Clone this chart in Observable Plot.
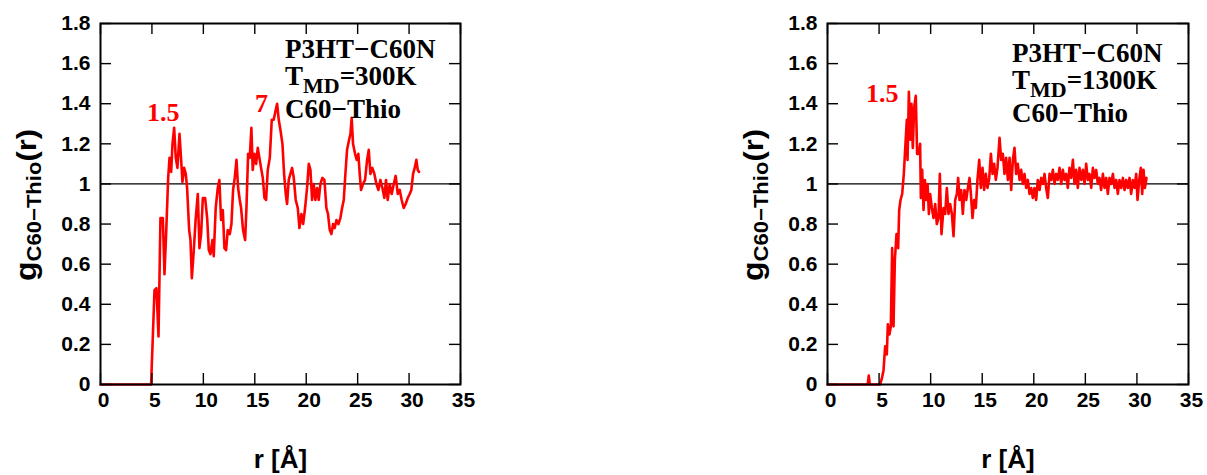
<!DOCTYPE html>
<html>
<head>
<meta charset="utf-8">
<script src="https://cdn.jsdelivr.net/npm/d3@7"></script>
<script src="https://cdn.jsdelivr.net/npm/@observablehq/plot@0.6"></script>
<style>
  html, body { margin: 0; padding: 0; background: #fff; }
  #wrap { position: relative; width: 1207px; height: 475px; overflow: hidden; background: #fff; }
  #left, #right { position: absolute; top: 0; }
  #left { left: 0; }
  #right { left: 727px; }
</style>
</head>
<body>
<div id="wrap"><div id="left"></div><div id="right"></div></div>
<script>
// ---- data ----
const xTicks = [0, 5, 10, 15, 20, 25, 30, 35];
const yTicks = [0, 0.2, 0.4, 0.6, 0.8, 1, 1.2, 1.4, 1.6, 1.8];

// T_MD = 300 K
const r300 = [0, 4.92, 5.25, 5.44, 5.64, 5.83, 6.06, 6.22, 6.38, 6.58, 6.71, 6.87, 7.0, 7.16, 7.32, 7.48, 7.68, 7.84, 7.97, 8.13, 8.29, 8.42, 8.62, 8.75, 8.88, 9.07, 9.26, 9.46, 9.62, 9.78, 9.95, 10.17, 10.37, 10.53, 10.69, 10.88, 11.01, 11.2, 11.4, 11.56, 11.72, 11.89, 12.05, 12.21, 12.37, 12.57, 12.73, 12.89, 13.05, 13.22, 13.38, 13.54, 13.67, 13.86, 14.06, 14.19, 14.35, 14.51, 14.67, 14.8, 14.97, 15.13, 15.29, 15.45, 15.61, 15.78, 15.94, 16.1, 16.26, 16.46, 16.65, 16.84, 17.04, 17.17, 17.33, 17.49, 17.69, 17.85, 18.01, 18.14, 18.3, 18.46, 18.63, 18.79, 18.98, 19.18, 19.34, 19.53, 19.7, 19.89, 20.08, 20.25, 20.41, 20.57, 20.73, 20.89, 21.06, 21.22, 21.38, 21.57, 21.77, 21.96, 22.12, 22.29, 22.45, 22.61, 22.77, 22.94, 23.13, 23.32, 23.49, 23.65, 23.81, 23.97, 24.17, 24.3, 24.42, 24.55, 24.75, 24.91, 25.07, 25.2, 25.33, 25.53, 25.72, 25.92, 26.08, 26.24, 26.43, 26.63, 26.82, 27.02, 27.21, 27.41, 27.6, 27.76, 27.92, 28.12, 28.31, 28.51, 28.7, 28.9, 29.09, 29.28, 29.48, 29.67, 29.87, 30.06, 30.22, 30.39, 30.55, 30.71, 30.84, 30.97];
const g300 = [0, 0, 0.47, 0.48, 0.24, 0.83, 0.83, 0.55, 0.75, 1.03, 1.13, 1.06, 1.2, 1.28, 1.13, 1.08, 1.25, 1.12, 1.01, 1.08, 1.05, 0.98, 0.77, 0.72, 0.53, 0.67, 0.83, 0.95, 0.68, 0.75, 0.93, 0.93, 0.83, 0.67, 0.65, 0.72, 0.64, 0.88, 0.98, 1.02, 0.82, 0.87, 0.68, 0.67, 0.77, 0.75, 0.8, 0.97, 1.03, 1.12, 0.98, 0.92, 0.88, 0.77, 0.72, 0.88, 1.15, 1.13, 1.28, 1.07, 1.15, 1.1, 1.18, 1.13, 1.08, 1.03, 0.93, 0.92, 1.07, 1.13, 1.32, 1.32, 1.37, 1.4, 1.32, 1.27, 1.2, 1.05, 0.95, 0.9, 1.02, 1.05, 1.08, 1.03, 0.92, 0.88, 0.78, 0.85, 0.8, 0.88, 0.98, 1.1, 1.07, 0.92, 1.0, 0.92, 0.98, 0.92, 1.0, 1.03, 1.02, 0.88, 0.85, 0.77, 0.75, 0.8, 0.78, 0.82, 0.8, 0.83, 0.88, 0.92, 1.05, 1.17, 1.22, 1.25, 1.33, 1.2, 1.15, 1.12, 1.15, 1.05, 0.97, 1.0, 1.02, 1.12, 1.17, 1.05, 1.08, 1.05, 1.0, 0.97, 1.02, 0.98, 0.93, 1.02, 0.92, 1.0, 0.95, 1.0, 1.04, 0.95, 0.97, 0.92, 0.88, 0.9, 0.93, 0.95, 0.97, 1.05, 1.08, 1.12, 1.07, 1.06];

// T_MD = 1300 K
const r1300 = [0, 3.9, 4.0, 4.1, 5.1, 5.27, 5.43, 5.59, 5.75, 5.85, 6.01, 6.14, 6.27, 6.4, 6.53, 6.69, 6.85, 6.95, 7.08, 7.24, 7.4, 7.56, 7.69, 7.76, 7.89, 8.02, 8.14, 8.27, 8.4, 8.56, 8.69, 8.86, 8.98, 9.05, 9.18, 9.31, 9.44, 9.57, 9.7, 9.83, 9.95, 10.12, 10.28, 10.44, 10.6, 10.76, 10.89, 11.05, 11.25, 11.41, 11.57, 11.73, 11.89, 12.06, 12.22, 12.38, 12.54, 12.67, 12.8, 12.96, 13.12, 13.28, 13.45, 13.61, 13.77, 13.9, 14.06, 14.22, 14.38, 14.54, 14.71, 14.87, 15.03, 15.19, 15.35, 15.51, 15.68, 15.84, 16.0, 16.16, 16.32, 16.48, 16.68, 16.84, 17.0, 17.16, 17.32, 17.49, 17.65, 17.81, 17.97, 18.13, 18.29, 18.45, 18.62, 18.78, 18.94, 19.1, 19.26, 19.42, 19.59, 19.75, 19.91, 20.07, 20.23, 20.39, 20.56, 20.72, 20.88, 21.04, 21.2, 21.36, 21.53, 21.69, 21.85, 22.01, 22.17, 22.33, 22.5, 22.66, 22.82, 22.98, 23.14, 23.3, 23.46, 23.63, 23.79, 23.95, 24.11, 24.27, 24.43, 24.6, 24.76, 24.92, 25.08, 25.24, 25.4, 25.57, 25.73, 25.89, 26.05, 26.21, 26.37, 26.53, 26.7, 26.86, 27.02, 27.18, 27.34, 27.5, 27.67, 27.83, 27.99, 28.15, 28.31, 28.47, 28.64, 28.8, 28.96, 29.12, 29.28, 29.44, 29.6, 29.77, 29.93, 30.06, 30.22, 30.38, 30.51, 30.64, 30.77, 30.93];
const g1300 = [0, 0, 0.045, 0, 0, 0.03, 0.07, 0.19, 0.15, 0.3, 0.25, 0.29, 0.68, 0.29, 0.62, 0.75, 0.68, 0.87, 0.92, 0.95, 1.05, 1.2, 1.32, 1.12, 1.46, 1.22, 1.4, 1.18, 1.38, 1.44, 1.15, 1.15, 1.2, 0.93, 1.07, 0.87, 1.02, 0.92, 1.0, 0.85, 0.95, 0.88, 0.83, 0.9, 0.8, 0.83, 1.05, 0.75, 0.88, 0.85, 0.98, 0.85, 0.9, 0.85, 0.74, 0.92, 0.95, 1.03, 0.92, 0.97, 0.85, 0.97, 0.92, 0.98, 1.03, 0.95, 0.83, 0.92, 0.88, 1.02, 1.12, 0.98, 1.08, 0.97, 1.05, 0.98, 1.03, 1.15, 1.05, 1.1, 1.02, 1.08, 1.23, 1.12, 1.15, 1.05, 1.13, 1.02, 1.13, 0.97, 1.12, 1.18, 1.05, 1.1, 1.02, 1.07, 1.0, 1.05, 0.98, 1.02, 0.95, 0.98, 0.93, 0.98, 0.92, 1.02, 0.97, 1.03, 1.0, 1.05, 0.98, 0.93, 1.05, 1.02, 1.07, 1.0, 1.05, 1.02, 1.08, 1.0, 1.07, 1.02, 1.05, 0.98, 1.08, 1.03, 1.12, 1.0, 1.07, 0.98, 1.08, 1.02, 1.07, 1.0, 1.1, 1.02, 1.05, 0.98, 1.08, 1.03, 1.07, 1.0, 1.03, 0.97, 1.05, 0.98, 1.03, 0.95, 1.03, 1.0, 1.05, 0.98, 1.02, 0.95, 1.02, 0.98, 1.03, 0.97, 1.02, 0.98, 1.03, 0.95, 1.02, 0.98, 1.05, 0.92, 1.02, 1.08, 0.95, 1.07, 0.98, 1.03];

const temps = ["300K", "1300K"];
const peakLabels300 = ["1.5", "7"];
const peakLabels1300 = ["1.5"];

// ---- drawing ----
const H = 475, MT = 23, MB = 91, ML = 100;
const SANS = "'Liberation Sans', Arial, Helvetica, sans-serif";
const SERIF = "'Liberation Serif', 'Times New Roman', serif";
const X_DOMAIN = [0, 35], Y_DOMAIN = [0, 1.8];
const TICK_LEN = 11;

function panel(r, g, marginRight) {
  const data = r.map((x, i) => ({r: x, g: g[i]}));
  const W = 480;
  const pw = W - ML - marginRight;
  const ph = H - MT - MB;
  // inward tick length expressed in data units of each scale
  const ky = TICK_LEN / ph * (Y_DOMAIN[1] - Y_DOMAIN[0]);
  const kx = TICK_LEN / pw * (X_DOMAIN[1] - X_DOMAIN[0]);
  const ts = {stroke: "#000", strokeWidth: 1.4};
  return Plot.plot({
    width: W, height: H,
    marginLeft: ML, marginRight, marginTop: MT, marginBottom: MB,
    x: {domain: X_DOMAIN},
    y: {domain: Y_DOMAIN},
    style: {fontFamily: SANS, background: "white", color: "black"},
    marks: [
      Plot.ruleY([1], {stroke: "black", strokeWidth: 1.2}),
      Plot.line(data, {x: "r", y: "g", stroke: "#ff0000", strokeWidth: 2.6, strokeLinejoin: "round"}),
      Plot.ruleX(xTicks, {x: d => d, y1: Y_DOMAIN[0], y2: Y_DOMAIN[0] + ky, ...ts}),
      Plot.ruleX(xTicks, {x: d => d, y1: Y_DOMAIN[1] - ky, y2: Y_DOMAIN[1], ...ts}),
      Plot.ruleY(yTicks, {y: d => d, x1: X_DOMAIN[0], x2: X_DOMAIN[0] + kx, ...ts}),
      Plot.ruleY(yTicks, {y: d => d, x1: X_DOMAIN[1] - kx, x2: X_DOMAIN[1], ...ts}),
      Plot.axisX(xTicks, {anchor: "bottom", tickSize: 0, tickPadding: 8, dx: 3, tickFormat: d => String(d),
        fontSize: 21, fontWeight: "bold", label: null}),
      Plot.axisY(yTicks, {anchor: "left", tickSize: 0, tickPadding: 10, tickFormat: d => String(d),
        fontSize: 21, fontWeight: "bold", label: null}),
      Plot.text(["r [Å]"], {frameAnchor: "bottom", dy: 75, lineAnchor: "middle",
        fontSize: 26, fontWeight: "bold", fill: "black"}),
      Plot.frame({stroke: "black", strokeWidth: 2})
    ]
  });
}

function addText(svg, x, y, parts, opts = {}) {
  const t = d3.select(svg).append("text")
    .attr("x", x).attr("y", y)
    .attr("font-family", opts.family || SERIF)
    .attr("font-weight", "bold")
    .attr("fill", opts.fill || "black")
    .attr("text-anchor", opts.anchor || "start");
  if (opts.transform) t.attr("transform", opts.transform).attr("x", 0).attr("y", 0);
  if (opts.textLength) t.attr("textLength", opts.textLength).attr("lengthAdjust", "spacingAndGlyphs");
  for (const p of parts) {
    const s = t.append("tspan").attr("font-size", p.size).text(p.t);
    if (p.dy) s.attr("dy", p.dy);
  }
  return t;
}

function decorate(svg, temp, peaks, peakPos, dyAnn) {
  // y-axis label g_{C60−Thio}(r)
  addText(svg, 0, 0, [
    {t: "g", size: 29},
    {t: "C60−Thio", size: 20, dy: 5},
    {t: "(r)", size: 28, dy: -5}
  ], {family: SANS, anchor: "middle", transform: "translate(36,205) rotate(-90)", textLength: 152});
  // annotation block
  const ax = 285;
  addText(svg, ax, 58 + dyAnn, [{t: "P3HT−C60N", size: 27}]);
  addText(svg, ax, 85 + dyAnn, [
    {t: "T", size: 27},
    {t: "MD", size: 22, dy: 8},
    {t: "=" + temp, size: 27, dy: -8}
  ]);
  addText(svg, ax, 118 + dyAnn, [{t: "C60−Thio", size: 27}]);
  peaks.forEach((p, i) => {
    addText(svg, peakPos[i][0], peakPos[i][1], [{t: p, size: 26}], {fill: "#ff0000"});
  });
}

const left = panel(r300, g300, 20);
decorate(left, temps[0], peakLabels300, [[147, 121], [255, 112]], 0);
document.getElementById("left").appendChild(left);

const right = panel(r1300, g1300, 19);
decorate(right, temps[1], peakLabels1300, [[139, 102]], 4);
document.getElementById("right").appendChild(right);
</script>
</body>
</html>
